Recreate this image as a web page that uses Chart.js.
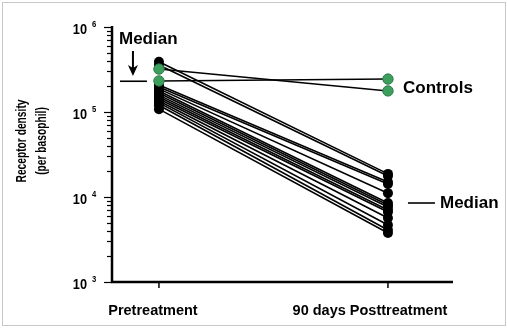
<!DOCTYPE html>
<html><head><meta charset="utf-8">
<script src="https://cdn.jsdelivr.net/npm/chart.js@4"></script>
<style>
html,body{margin:0;padding:0;background:#fff}
#wrap{position:relative;width:507px;height:328px}
canvas{display:block}
#frame{position:absolute;left:2px;top:2px;width:502px;height:322px;border:1px solid #c8c8c8;pointer-events:none}
</style></head>
<body>
<div id="wrap"><canvas id="c" width="507" height="328"></canvas><div id="frame"></div></div>
<script>
const categories = ['Pretreatment', '90 days Posttreatment'];
const treatedPre  = [390000, 357000, 208000, 197000, 187000, 177000, 167000, 158000, 150000, 142000, 135000, 128000, 120000, 108000];
const treatedPost = [18700, 17700, 15000, 14200, 11100, 8500, 8050, 7630, 7030, 6660, 5660, 4690, 4090, 3770];
const controlPre  = [320000, 232000];
const controlPost = [177000, 244000];
const medianPre = 230000;
const medianPost = 8500;
const yMajorExponents = [3, 4, 5, 6];
const yAxisTitle = ['Receptor density', '(per basophil)'];

const FONT = '"Liberation Sans", Arial, Helvetica, sans-serif';
const datasets = [];
controlPre.forEach((v, i) => {
  datasets.push({
    data: [{x: 0, y: v}, {x: 1, y: controlPost[i]}],
    showLine: true, borderColor: '#000', borderWidth: 1.6,
    pointRadius: 5.2, pointBackgroundColor: '#3c9f5e', pointBorderColor: '#2c7a46',
    pointBorderWidth: 1, clip: false, order: 1
  });
});
treatedPre.forEach((v, i) => {
  datasets.push({
    data: [{x: 0, y: v}, {x: 1, y: treatedPost[i]}],
    showLine: true, borderColor: '#000', borderWidth: 1.6,
    pointRadius: 5, pointBackgroundColor: '#000', pointBorderColor: '#000',
    pointBorderWidth: 0, clip: false, order: 2
  });
});

function condensedText(ctx, text, x, y, sx, rot) {
  ctx.save();
  ctx.translate(x, y);
  if (rot) ctx.rotate(rot);
  ctx.scale(sx, 1);
  ctx.fillText(text, 0, 0);
  ctx.restore();
}

const decor = {
  id: 'decor',
  beforeDatasetsDraw(chart) {
    const ctx = chart.ctx, ca = chart.chartArea;
    const ys = chart.scales.y, xs = chart.scales.x;
    ctx.save();
    ctx.strokeStyle = '#000';
    ctx.lineWidth = 2.5;
    ctx.beginPath();
    ctx.moveTo(ca.left, ca.top - 1);
    ctx.lineTo(ca.left, ca.bottom);
    ctx.lineTo(ca.right, ca.bottom);
    ctx.stroke();
    ctx.lineWidth = 1.2;
    for (let e = 3; e <= 6; e++) {
      for (let m = 1; m <= (e === 6 ? 1 : 9); m++) {
        const y = Math.round(ys.getPixelForValue(m * Math.pow(10, e))) + 0.5;
        const len = m === 1 ? 8 : 5;
        ctx.beginPath();
        ctx.moveTo(ca.left - len, y);
        ctx.lineTo(ca.left, y);
        ctx.stroke();
      }
    }
    ctx.lineWidth = 1.5;
    [0, 1].forEach(v => {
      const x = xs.getPixelForValue(v);
      ctx.beginPath();
      ctx.moveTo(x, ca.bottom);
      ctx.lineTo(x, ca.bottom + 6);
      ctx.stroke();
    });
    ctx.restore();
  },
  afterDraw(chart) {
    const ctx = chart.ctx;
    const ys = chart.scales.y, xs = chart.scales.x;
    ctx.save();
    ctx.fillStyle = '#000';
    ctx.strokeStyle = '#000';
    yMajorExponents.forEach(e => {
      const y = ys.getPixelForValue(Math.pow(10, e));
      ctx.font = 'bold 15px ' + FONT;
      ctx.textAlign = 'right';
      ctx.textBaseline = 'middle';
      condensedText(ctx, '10', 87, y + 3, 0.85);
      ctx.font = 'bold 9px ' + FONT;
      ctx.textAlign = 'left';
      condensedText(ctx, String(e), 92, y - 2, 0.85);
    });
    ctx.font = 'bold 14.5px ' + FONT;
    ctx.textAlign = 'center';
    ctx.textBaseline = 'middle';
    ctx.fillText(categories[0], xs.getPixelForValue(0) - 6, 311);
    ctx.fillText(categories[1], xs.getPixelForValue(1) - 18, 311);
    ctx.font = 'bold 15.5px ' + FONT;
    condensedText(ctx, yAxisTitle[0], 22, 141, 0.66, -Math.PI / 2);
    condensedText(ctx, yAxisTitle[1], 42, 141, 0.66, -Math.PI / 2);
    const x0 = xs.getPixelForValue(0), x1 = xs.getPixelForValue(1);
    const ym0 = ys.getPixelForValue(medianPre);
    ctx.lineWidth = 1.6;
    ctx.beginPath();
    ctx.moveTo(x0 - 39, ym0); ctx.lineTo(x0 - 12, ym0); ctx.stroke();
    const ax = x0 - 26;
    ctx.lineWidth = 2;
    ctx.beginPath();
    ctx.moveTo(ax, 51); ctx.lineTo(ax, 68); ctx.stroke();
    ctx.beginPath();
    ctx.moveTo(ax - 5, 65); ctx.lineTo(ax, 76); ctx.lineTo(ax + 5, 65); ctx.lineTo(ax, 68); ctx.closePath();
    ctx.fill();
    ctx.font = 'bold 17px ' + FONT;
    ctx.textAlign = 'left';
    ctx.textBaseline = 'middle';
    ctx.fillText('Median', 119, 39);
    const ym1 = ys.getPixelForValue(medianPost);
    ctx.lineWidth = 1.6;
    ctx.beginPath();
    ctx.moveTo(x1 + 20, ym1); ctx.lineTo(x1 + 47, ym1); ctx.stroke();
    ctx.fillText('Median', 440, ym1);
    ctx.fillText('Controls', 403, 88);
    ctx.restore();
  }
};

new Chart(document.getElementById('c'), {
  type: 'scatter',
  data: { datasets },
  options: {
    responsive: false, animation: false, devicePixelRatio: 1,
    layout: { padding: { left: 112, right: 54, top: 27, bottom: 46 } },
    plugins: { legend: { display: false }, tooltip: { enabled: false } },
    scales: {
      x: { type: 'linear', min: -0.205, max: 1.284, display: false },
      y: { type: 'logarithmic', min: 1000, max: 1000000, display: false }
    }
  },
  plugins: [decor]
});
</script>
</body></html>
